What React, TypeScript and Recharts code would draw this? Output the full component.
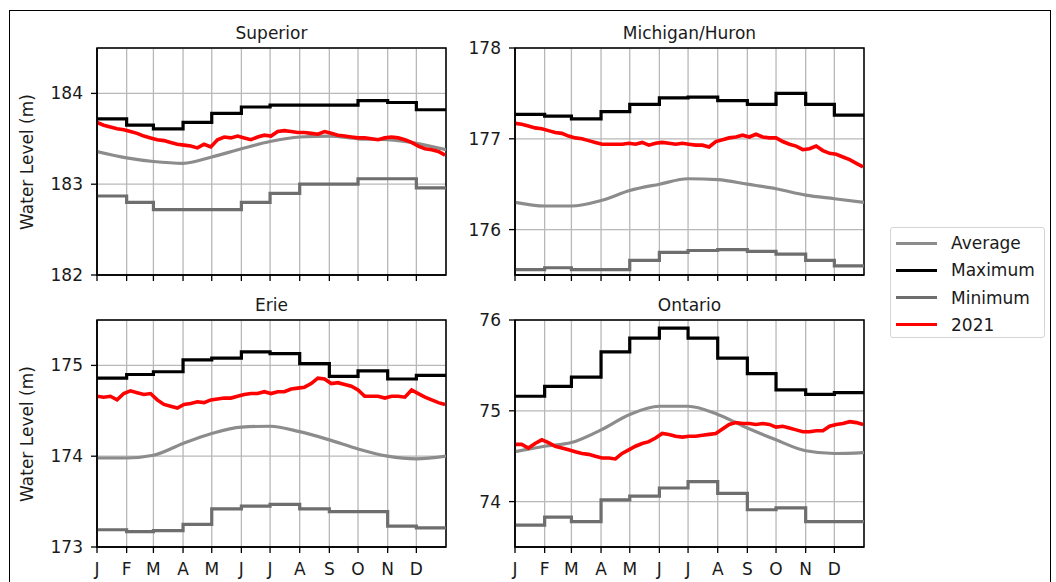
import { CartesianGrid, Line, LineChart, ReferenceArea, XAxis, YAxis } from "recharts";

// day-of-year of each month start, and the step/avg sample days (month starts + year end)
const monthStarts = [0, 31, 59, 90, 120, 151, 181, 212, 243, 273, 304, 334];
const monthLabels = ["J", "F", "M", "A", "M", "J", "J", "A", "S", "O", "N", "D"];
const stepDays = [...monthStarts, 365];
const weekDays = Array.from({ length: 53 }, (_, i) => i * 7);

// Superior
const superiorAvg = [183.36, 183.29, 183.25, 183.23, 183.3, 183.39, 183.47, 183.52, 183.53, 183.5, 183.49, 183.45, 183.38];
const superiorMax = [183.72, 183.65, 183.61, 183.68, 183.78, 183.85, 183.87, 183.87, 183.87, 183.92, 183.9, 183.82];
const superiorMin = [182.87, 182.8, 182.72, 182.72, 182.72, 182.8, 182.9, 183.0, 183.0, 183.06, 183.06, 182.96];
const superior2021 = [
  183.68, 183.65, 183.63, 183.61, 183.6, 183.58, 183.56, 183.53, 183.51, 183.49, 183.48, 183.46, 183.44, 183.43,
  183.42, 183.4, 183.44, 183.41, 183.49, 183.52, 183.51, 183.53, 183.51, 183.49, 183.52, 183.54, 183.53, 183.58,
  183.59, 183.58, 183.57, 183.57, 183.56, 183.55, 183.58, 183.56, 183.54, 183.53, 183.52, 183.51, 183.51, 183.5,
  183.49, 183.51, 183.52, 183.51, 183.49, 183.46, 183.42, 183.39, 183.38, 183.36, 183.32,
];

// Michigan/Huron
const michiganAvg = [176.3, 176.26, 176.26, 176.32, 176.43, 176.5, 176.56, 176.55, 176.5, 176.45, 176.38, 176.34, 176.3];
const michiganMax = [177.27, 177.25, 177.22, 177.3, 177.38, 177.45, 177.46, 177.42, 177.38, 177.5, 177.38, 177.26];
const michiganMin = [175.56, 175.58, 175.56, 175.56, 175.66, 175.75, 175.77, 175.78, 175.76, 175.73, 175.66, 175.6];
const michigan2021 = [
  177.17, 177.16, 177.14, 177.12, 177.11, 177.09, 177.07, 177.06, 177.03, 177.01, 177.0, 176.98, 176.96, 176.94,
  176.94, 176.94, 176.94, 176.95, 176.94, 176.96, 176.93, 176.95, 176.96, 176.95, 176.94, 176.95, 176.94, 176.93,
  176.93, 176.91, 176.97, 176.99, 177.01, 177.02, 177.04, 177.02, 177.05, 177.02, 177.01, 177.01, 176.97, 176.94,
  176.92, 176.88, 176.89, 176.92, 176.87, 176.84, 176.83, 176.8, 176.77, 176.73, 176.69,
];

// Erie
const erieAvg = [173.98, 173.98, 174.01, 174.14, 174.25, 174.32, 174.33, 174.27, 174.18, 174.08, 174.0, 173.97, 174.0];
const erieMax = [174.86, 174.9, 174.93, 175.06, 175.08, 175.15, 175.13, 175.02, 174.88, 174.94, 174.85, 174.89];
const erieMin = [173.19, 173.17, 173.18, 173.25, 173.42, 173.45, 173.47, 173.42, 173.39, 173.39, 173.23, 173.21];
const erie2021 = [
  174.66, 174.65, 174.66, 174.62, 174.69, 174.72, 174.7, 174.68, 174.69, 174.62, 174.57, 174.55, 174.53, 174.57,
  174.58, 174.6, 174.59, 174.62, 174.63, 174.64, 174.64, 174.66, 174.68, 174.69, 174.69, 174.71, 174.69, 174.71,
  174.71, 174.74, 174.75, 174.76, 174.8, 174.86, 174.85, 174.8, 174.81, 174.79, 174.77, 174.73, 174.66, 174.66,
  174.66, 174.64, 174.66, 174.66, 174.65, 174.73, 174.69, 174.65, 174.62, 174.59, 174.57,
];

// Ontario
const ontarioAvg = [74.55, 74.61, 74.65, 74.79, 74.96, 75.05, 75.05, 74.96, 74.81, 74.68, 74.56, 74.53, 74.54];
const ontarioMax = [75.16, 75.27, 75.37, 75.65, 75.8, 75.91, 75.8, 75.58, 75.41, 75.23, 75.18, 75.2];
const ontarioMin = [73.74, 73.83, 73.78, 74.02, 74.06, 74.15, 74.22, 74.09, 73.91, 73.93, 73.78, 73.78];
const ontario2021 = [
  74.63, 74.63, 74.59, 74.64, 74.68, 74.65, 74.61, 74.59, 74.57, 74.55, 74.53, 74.52, 74.5, 74.48,
  74.48, 74.47, 74.53, 74.57, 74.61, 74.64, 74.66, 74.7, 74.75, 74.74, 74.72, 74.71, 74.72, 74.72,
  74.73, 74.74, 74.75, 74.8, 74.85, 74.87, 74.86, 74.86, 74.85, 74.86, 74.85, 74.82, 74.83, 74.81,
  74.79, 74.77, 74.77, 74.78, 74.78, 74.83, 74.85, 74.86, 74.88, 74.87, 74.85,
];

const AVG_COLOR = "#8c8c8c";
const MAX_COLOR = "#000000";
const MIN_COLOR = "#6e6e6e";
const RED = "#ff0000";
const FONT = "'DejaVu Sans', sans-serif";
const FS = 17;

const PLOT_W = 349;
const PLOT_H = 227;
const Y_W = 60;

interface LakeProps {
  title: string;
  plotLeft: number;
  plotTop: number;
  domain: [number, number];
  ticks: number[];
  avg: number[];
  max: number[];
  min: number[];
  y2021: number[];
  showMonths: boolean;
  showYLabel: boolean;
}

function Lake(p: LakeProps) {
  const avgData = stepDays.map((d, i) => ({ d, v: p.avg[i] }));
  const maxData = stepDays.map((d, i) => ({ d, v: p.max[Math.min(i, 11)] }));
  const minData = stepDays.map((d, i) => ({ d, v: p.min[Math.min(i, 11)] }));
  const redData = weekDays.map((d, i) => ({ d, v: p.y2021[i] }));

  return (
    <>
      <div
        style={{
          position: "absolute",
          left: p.plotLeft,
          top: p.plotTop - 25,
          width: PLOT_W,
          textAlign: "center",
          fontSize: FS,
          lineHeight: "20px",
          color: "#1a1a1a",
        }}
      >
        {p.title}
      </div>
      {p.showYLabel && (
        <div
          style={{
            position: "absolute",
            left: 27 - 100,
            top: p.plotTop + PLOT_H / 2 - 10,
            width: 200,
            textAlign: "center",
            fontSize: FS,
            lineHeight: "20px",
            color: "#1a1a1a",
            transform: "rotate(-90deg)",
          }}
        >
          Water Level (m)
        </div>
      )}
      <div style={{ position: "absolute", left: p.plotLeft - Y_W, top: p.plotTop - 10 }}>
        <LineChart
          width={Y_W + PLOT_W + 10}
          height={10 + PLOT_H + 32}
          margin={{ top: 10, right: 10, bottom: 0, left: 0 }}
        >
          <CartesianGrid stroke="#b8b8b8" strokeWidth={1.3} />
          <XAxis
            dataKey="d"
            type="number"
            domain={[0, 365]}
            ticks={monthStarts}
            interval={0}
            allowDataOverflow
            height={32}
            tickSize={6}
            tickMargin={10}
            tickFormatter={(v: number) => (p.showMonths ? monthLabels[monthStarts.indexOf(v)] : "")}
            tick={{ fill: "#1a1a1a", fontSize: FS }}
            axisLine={{ stroke: "#000", strokeWidth: 1.5 }}
            tickLine={{ stroke: "#000", strokeWidth: 1.3 }}
          />
          <YAxis
            type="number"
            domain={p.domain}
            ticks={p.ticks}
            interval={0}
            allowDataOverflow
            width={Y_W}
            tickSize={6}
            tickMargin={8}
            tick={{ fill: "#1a1a1a", fontSize: FS }}
            axisLine={{ stroke: "#000", strokeWidth: 1.5 }}
            tickLine={{ stroke: "#000", strokeWidth: 1.3 }}
          />
          <ReferenceArea
            x1={0}
            x2={365}
            y1={p.domain[0]}
            y2={p.domain[1]}
            fill="none"
            fillOpacity={0}
            stroke="#000"
            strokeWidth={1.5}
          />
          <Line data={avgData} dataKey="v" type="monotone" stroke={AVG_COLOR} strokeWidth={3.2} dot={false} isAnimationActive={false} />
          <Line data={maxData} dataKey="v" type="stepAfter" stroke={MAX_COLOR} strokeWidth={3.2} dot={false} isAnimationActive={false} />
          <Line data={minData} dataKey="v" type="stepAfter" stroke={MIN_COLOR} strokeWidth={3.2} dot={false} isAnimationActive={false} />
          <Line data={redData} dataKey="v" type="linear" stroke={RED} strokeWidth={3.6} dot={false} isAnimationActive={false} />
        </LineChart>
      </div>
    </>
  );
}

const legendItems = [
  { name: "Average", color: AVG_COLOR },
  { name: "Maximum", color: MAX_COLOR },
  { name: "Minimum", color: MIN_COLOR },
  { name: "2021", color: RED },
];

export default function App() {
  return (
    <div
      style={{
        position: "absolute",
        left: 0,
        top: 0,
        width: 1056,
        height: 582,
        overflow: "hidden",
        background: "#fff",
        fontFamily: FONT,
      }}
    >
      <div
        style={{
          position: "absolute",
          left: 9,
          top: 10,
          width: 1040,
          height: 600,
          border: "1.5px solid #000",
        }}
      />
      <Lake
        title="Superior"
        plotLeft={97}
        plotTop={48}
        domain={[182, 184.5]}
        ticks={[182, 183, 184]}
        avg={superiorAvg}
        max={superiorMax}
        min={superiorMin}
        y2021={superior2021}
        showMonths={false}
        showYLabel
      />
      <Lake
        title="Michigan/Huron"
        plotLeft={515}
        plotTop={48}
        domain={[175.5, 178]}
        ticks={[176, 177, 178]}
        avg={michiganAvg}
        max={michiganMax}
        min={michiganMin}
        y2021={michigan2021}
        showMonths={false}
        showYLabel={false}
      />
      <Lake
        title="Erie"
        plotLeft={97}
        plotTop={320}
        domain={[173, 175.5]}
        ticks={[173, 174, 175]}
        avg={erieAvg}
        max={erieMax}
        min={erieMin}
        y2021={erie2021}
        showMonths
        showYLabel
      />
      <Lake
        title="Ontario"
        plotLeft={515}
        plotTop={320}
        domain={[73.5, 76]}
        ticks={[74, 75, 76]}
        avg={ontarioAvg}
        max={ontarioMax}
        min={ontarioMin}
        y2021={ontario2021}
        showMonths
        showYLabel={false}
      />
      <div
        style={{
          position: "absolute",
          left: 890,
          top: 227,
          width: 155,
          height: 111,
          border: "1px solid #d4d4d4",
          borderRadius: 3,
          boxSizing: "border-box",
        }}
      >
        {legendItems.map((it, i) => (
          <div
            key={it.name}
            style={{
              position: "absolute",
              left: 5,
              top: 5 + i * 27.3,
              height: 20,
              display: "flex",
              alignItems: "center",
              fontSize: FS,
              color: "#1a1a1a",
            }}
          >
            <span style={{ display: "inline-block", width: 41, height: 3, background: it.color, marginRight: 14 }} />
            {it.name}
          </div>
        ))}
      </div>
    </div>
  );
}
